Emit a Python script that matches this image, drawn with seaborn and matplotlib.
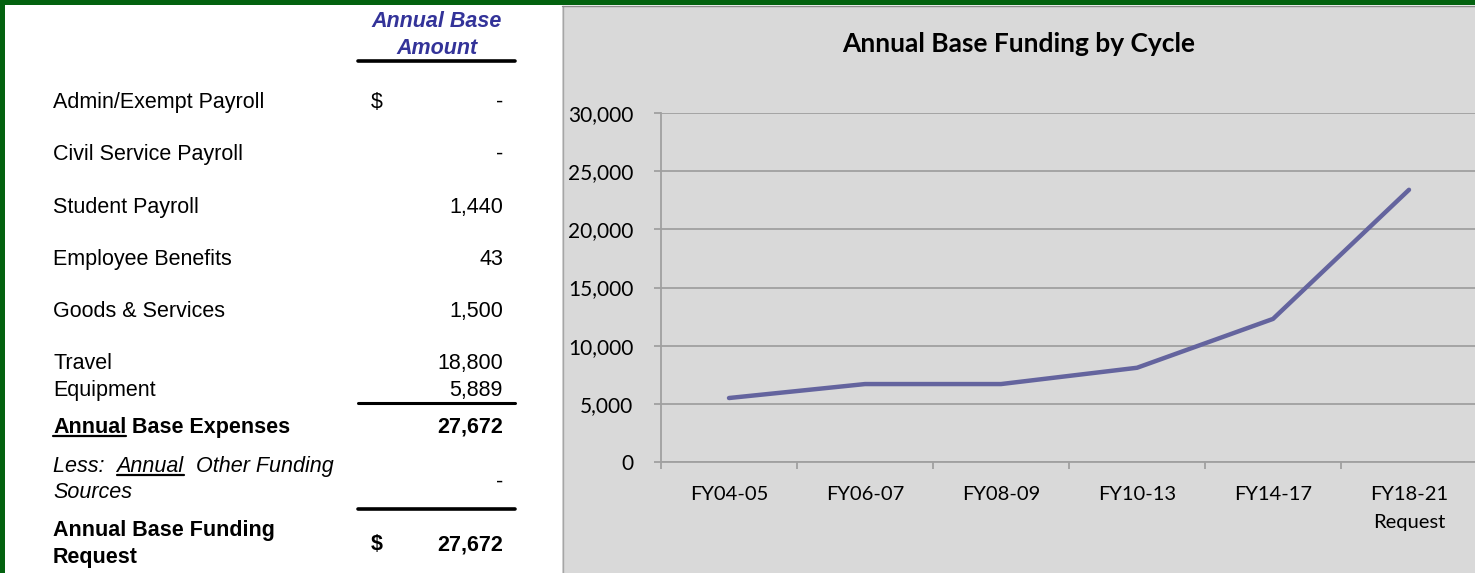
import matplotlib
matplotlib.use('Agg')
import matplotlib.pyplot as plt
import seaborn as sns
import pandas as pd
from matplotlib.patches import Rectangle
from matplotlib.lines import Line2D
from matplotlib.ticker import FuncFormatter
from matplotlib import font_manager as fm

# ---------------- data ----------------
cycles = ["FY04-05", "FY06-07", "FY08-09", "FY10-13", "FY14-17", "FY18-21\nRequest"]
funding = [5500, 6700, 6700, 8100, 12300, 23400]

item_labels = ["Admin/Exempt Payroll", "Civil Service Payroll", "Student Payroll",
               "Employee Benefits", "Goods & Services", "Travel", "Equipment"]
item_amounts = ["-", "-", "1,440", "43", "1,500", "18,800", "5,889"]
total_expenses = "27,672"
other_funding = "-"
funding_request = "27,672"

W, H = 1475, 573
sns.set_theme(style="white")
plt.rcParams['font.family'] = ['Lato', 'DejaVu Sans']

names = {f.name for f in fm.fontManager.ttflist}
TFAM = 'DejaVu Sans'
for cand in ['Liberation Sans', 'Arial', 'Arimo', 'Nimbus Sans', 'Helvetica']:
    if cand in names:
        TFAM = cand
        break

fig = plt.figure(figsize=(W / 100, H / 100), dpi=100)
fig.patch.set_facecolor('white')


def fx(x):
    return x / W


def fy(y):
    return 1 - y / H


# chart panel background
fig.add_artist(Rectangle((fx(562), 0), 1 - fx(562), fy(6), transform=fig.transFigure,
                         facecolor='#d9d9d9', edgecolor='none', zorder=0))
fig.add_artist(Line2D([fx(562.5)] * 2, [0, fy(6)], color='#a6a6a6', lw=1, zorder=1))
# green frame
fig.add_artist(Rectangle((0, fy(5)), 1, 5 / H, transform=fig.transFigure,
                         facecolor='#03620f', edgecolor='none', zorder=2))
fig.add_artist(Line2D([fx(562), 1], [fy(5.8)] * 2, color='#8c8c8c', lw=1, zorder=1))
fig.add_artist(Rectangle((0, 0), 5 / W, 1, transform=fig.transFigure,
                         facecolor='#03620f', edgecolor='none', zorder=2))

# ---------------- chart ----------------
ax = fig.add_axes([661 / W, (H - 462) / H, 816 / W, 349 / H])
ax.set_facecolor('none')
df = pd.DataFrame({'cycle': cycles, 'funding': funding})
sns.lineplot(data=df, x='cycle', y='funding', ax=ax, color='#64649e', lw=3.2,
             sort=False, solid_capstyle='round')
ax.set_xlim(-0.5, 5.5)
ax.set_ylim(0, 30000)
ax.set_yticks(range(0, 30001, 5000))
ax.yaxis.set_major_formatter(FuncFormatter(lambda v, p: f"{int(v):,}"))
ax.yaxis.grid(True, color='#a0a0a0', lw=1.3)
ax.xaxis.grid(False)
ax.set_axisbelow(True)
for s in ['top', 'right']:
    ax.spines[s].set_visible(False)
for s in ['left', 'bottom']:
    ax.spines[s].set_color('#a0a0a0')
    ax.spines[s].set_linewidth(1.3)
ax.tick_params(axis='y', left=True, length=5, width=1.3, color='#a0a0a0', pad=15,
               labelsize=15, labelcolor='black')
ax.set_xticks(range(len(cycles)))
ax.set_xticklabels(cycles, fontsize=14.5, linespacing=1.8)
ax.tick_params(axis='x', which='major', bottom=False, length=0, pad=17, labelcolor='black')
ax.set_xticks([i - 0.5 for i in range(len(cycles) + 1)], minor=True)
ax.tick_params(axis='x', which='minor', bottom=True, length=5, width=1.3, color='#a0a0a0')
ax.set_xlabel('')
ax.set_ylabel('')

fig.text(fx(1019), fy(44.5), "Annual Base Funding by Cycle", ha='center', va='center',
         fontsize=19, fontweight='bold', color='black')

# ---------------- table ----------------
TF = [TFAM, 'DejaVu Sans']
FS = 15.5


def t(x, y, s, ha='left', **kw):
    return fig.text(fx(x), fy(y + 7), s, ha=ha, va='baseline', fontsize=FS,
                    family=TF, color=kw.pop('color', 'black'), **kw)


def rule(y, lw=2.6):
    fig.add_artist(Line2D([fx(358), fx(515)], [fy(y)] * 2, color='black', lw=lw))


t(437, 20, "Annual Base", ha='center', weight='bold', style='italic', color='#333399')
t(437, 47, "Amount", ha='center', weight='bold', style='italic', color='#333399')
rule(61)

item_y = [101, 153, 206, 258, 310, 362, 389]
for lab, amt, y in zip(item_labels, item_amounts, item_y):
    t(53, y, lab)
    t(503, y, amt, ha='right')
t(371, 101, "$")
rule(403, 2.2)

renderer = fig.canvas.get_renderer()


def underlined_line(x, y, parts, **kw):
    """parts: list of (text, underline_flag)"""
    cx = x
    for s, ul in parts:
        tx = t(cx, y, s, **kw)
        bb = tx.get_window_extent(renderer=renderer)
        if ul:
            base = H - (y + 7)
            uy = base - 2.5
            fig.add_artist(Line2D([bb.x0 / W, bb.x1 / W], [uy / H] * 2, color='black', lw=1.6))
        cx = bb.x1


underlined_line(53, 426, [("Annual", True), (" Base Expenses", False)], weight='bold')
t(503, 426, total_expenses, ha='right', weight='bold')

underlined_line(53, 465, [("Less:  ", False), ("Annual", True), ("  Other Funding", False)],
                style='italic')
t(53, 491, "Sources", style='italic')
t(503, 481, other_funding, ha='right')
rule(509)

t(53, 529, "Annual Base Funding", weight='bold')
t(53, 556, "Request", weight='bold')
t(371, 543, "$", weight='bold')
t(503, 543, funding_request, ha='right', weight='bold')

fig.savefig('out.png', dpi=100, facecolor=fig.get_facecolor())
